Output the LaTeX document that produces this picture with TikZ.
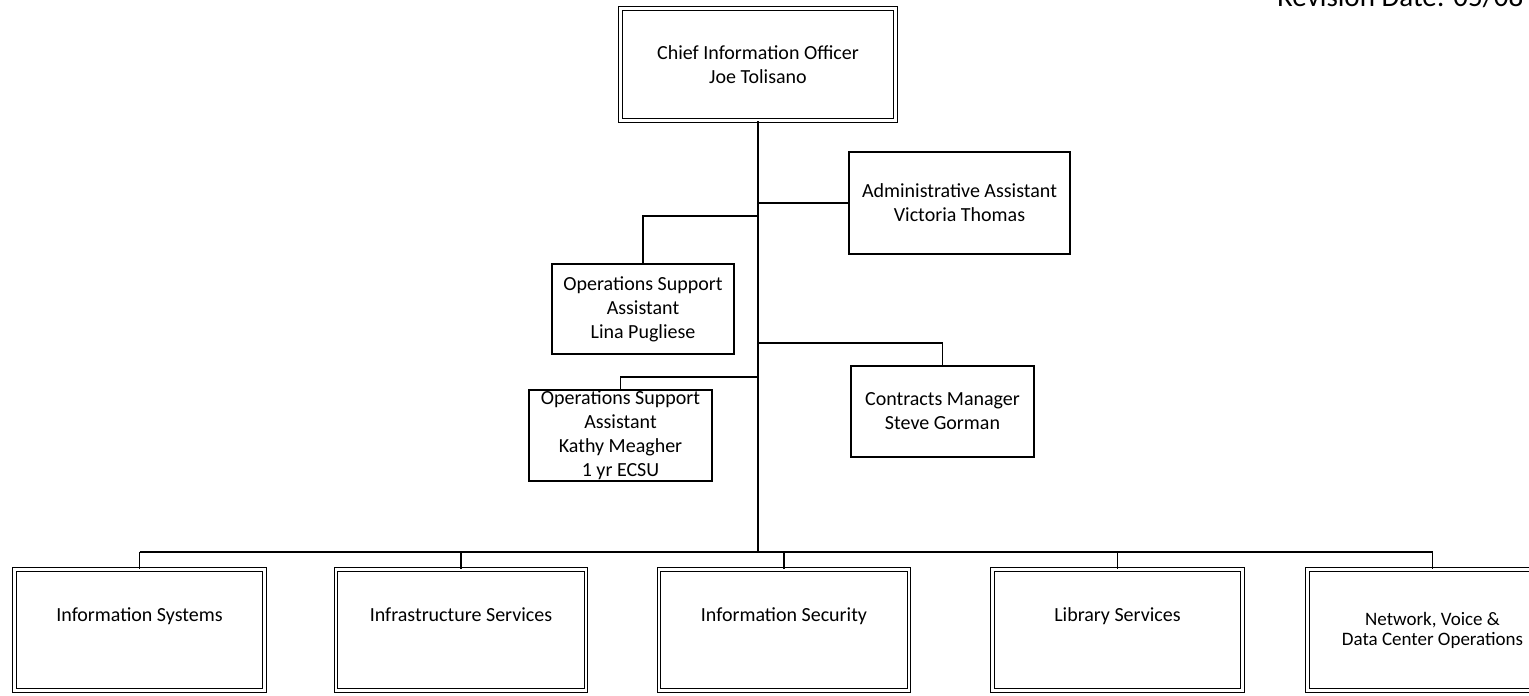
\documentclass[tikz,border=0pt]{standalone}
\usepackage{fontspec}
\setmainfont{Carlito}
\usetikzlibrary{positioning}

\newcommand{\boxfont}{\fontsize{20}{24}\selectfont}
\newcommand{\deptfont}{\fontsize{20}{21}\selectfont}

\tikzset{
  staff/.style={draw, line width=1.8pt, align=center, font=\boxfont, inner sep=0pt},
  dept/.style={draw, line width=1.1pt, double, double distance=2.6pt, align=center,
    font=\deptfont, inner sep=0pt, minimum width=250pt, minimum height=121pt},
  deptone/.style={dept, text depth=30pt},
  link/.style={line width=1.8pt}
}

\begin{document}
\begin{tikzpicture}[x=1pt, y=-1pt]
\path[use as bounding box, clip] (0,0) rectangle (1529,696);
\fill[white] (0,0) rectangle (1529,696);

% top of the chart
\node[dept, minimum width=275pt, minimum height=112pt, font=\boxfont] (cio) at (758,64.5) {Chief Information Officer\\Joe Tolisano};
\node[anchor=base west, font=\fontsize{29}{30}\selectfont, inner sep=0pt] (rev) at (1277,6) {Revision Date: 05/08};

% staff
\node[staff, minimum width=221pt, minimum height=102pt] (admin) at (959.5,203) {Administrative Assistant\\Victoria Thomas};
\node[staff, minimum width=182pt, minimum height=90pt] (lina) at (643,309) {Operations Support\\Assistant\\Lina Pugliese};
\node[staff, minimum width=183pt, minimum height=91pt] (contracts) at (942.5,411.5) {Contracts Manager\\Steve Gorman};
\node[staff, minimum width=183pt, minimum height=91pt] (kathy) at (620.5,435.5) {Operations Support\\Assistant\\Kathy Meagher\\1 yr ECSU};

% departments
\node[deptone] (infosys) at (139.5,630) {Information Systems};
\node[deptone] (infra) at (461,630) {Infrastructure Services};
\node[deptone] (infosec) at (784,630) {Information Security};
\node[deptone] (library) at (1117.5,630) {Library Services};
\node[dept, font=\fontsize{19}{20}\selectfont] (network) at (1432.5,630) {Network, Voice \&\\Data Center Operations};

% connectors
\coordinate (trunk) at (cio.south);
\coordinate (jadmin) at (trunk |- admin.west);
\coordinate (jlina) at (758,216);
\coordinate (jcontr) at (758,343);
\coordinate (jkathy) at (758,377);
\coordinate (jbus) at (758,552);

\draw[link] (trunk) -- (jbus);
\draw[link] (jadmin) -- (admin.west);
\draw[link] (jlina) -| (lina.north);
\draw[link] (jcontr) -| (contracts.north);
\draw[link] (jkathy) -| (kathy.north);
\draw[link] (infosys.north |- jbus) -- (network.north |- jbus);
\foreach \d in {infosys,infra,infosec,library,network}
  \draw[link] (\d.north |- jbus) -- (\d.north);
\end{tikzpicture}
\end{document}
